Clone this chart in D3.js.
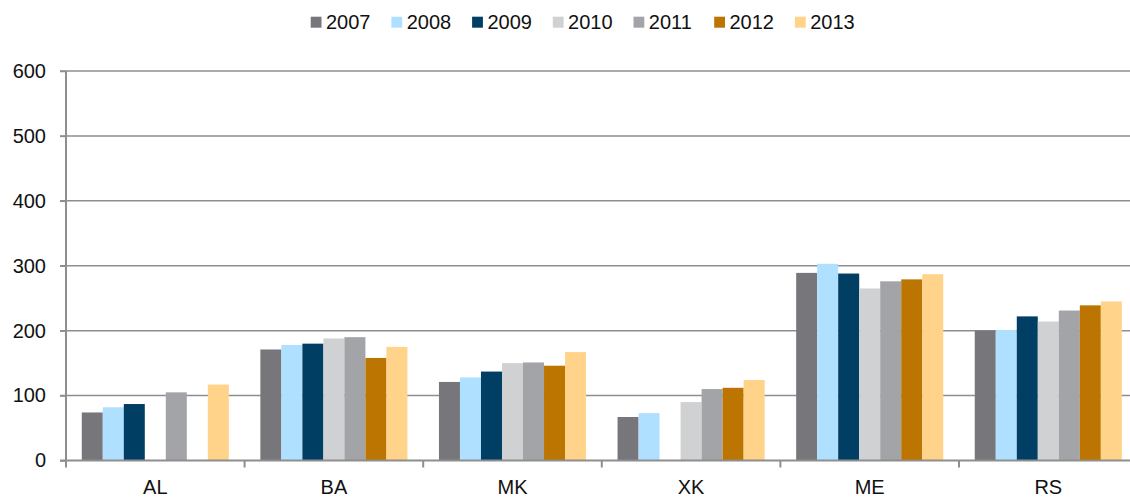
<!DOCTYPE html>
<html>
<head>
<meta charset="utf-8">
<script src="https://cdn.jsdelivr.net/npm/d3@7"></script>
<style>
  body { margin: 0; background: #fff; }
  text { font-family: "Liberation Sans", Arial, sans-serif; fill: #111; }
</style>
</head>
<body>
<script>
// countries and years
var countries = ["AL", "BA", "MK", "XK", "ME", "RS"];
var years = ["2007", "2008", "2009", "2010", "2011", "2012", "2013"];
var colors = ["#77767b", "#b0e0ff", "#003f63", "#d0d1d3", "#a3a4a8", "#bb7500", "#ffd389"];

// values per year, one per country (null = no data)
var v2007 = [74, 171, 121, 67, 289, 200];
var v2008 = [82, 178, 128, 73, 303, 201];
var v2009 = [87, 180, 137, null, 288, 222];
var v2010 = [null, 188, 150, 90, 265, 214];
var v2011 = [105, 190, 151, 110, 276, 231];
var v2012 = [null, 158, 146, 112, 279, 239];
var v2013 = [117, 175, 167, 124, 287, 245];
var series = [v2007, v2008, v2009, v2010, v2011, v2012, v2013];
var yTicks = [0, 100, 200, 300, 400, 500, 600];

var W = 1130, H = 498;
var margin = {top: 71, left: 66, bottom: 37},
    plotW = 178.6 * 6,
    plotH = H - margin.top - margin.bottom - 0.5;

var svg = d3.select("body").append("svg")
    .attr("width", W)
    .attr("height", H);

var g = svg.append("g")
    .attr("transform", "translate(" + margin.left + "," + margin.top + ")");

var x0 = d3.scaleBand().domain(countries).range([0, plotW])
    .paddingInner(0).paddingOuter(0);
var step = x0.bandwidth();
var barW = step / 8.5;
var x1 = d3.scaleBand().domain(years)
    .range([barW * 0.75, barW * 7.75]);

var y = d3.scaleLinear().domain([0, 600]).range([plotH, 0]);

// gridlines
g.append("g").selectAll("line")
    .data(yTicks.slice(1))
    .enter().append("line")
    .attr("x1", -6).attr("x2", W)
    .attr("y1", function(d) { return y(d); })
    .attr("y2", function(d) { return y(d); })
    .style("stroke", "#8e8e8e")
    .style("stroke-width", 1.5);

// bars
var rows = [];
series.forEach(function(s, i) {
    s.forEach(function(v, j) {
        if (v !== null) rows.push({year: years[i], c: countries[j], v: v, col: colors[i]});
    });
});

g.append("g").selectAll("rect")
    .data(rows)
    .enter().append("rect")
    .attr("x", function(d) { return x0(d.c) + x1(d.year); })
    .attr("width", x1.bandwidth())
    .attr("y", function(d) { return y(d.v); })
    .attr("height", function(d) { return plotH - y(d.v); })
    .style("fill", function(d) { return d.col; });

// y axis
var yAxis = g.append("g")
    .call(d3.axisLeft(y).tickValues(yTicks).tickSize(6).tickPadding(14));
yAxis.select(".domain").remove();
yAxis.selectAll("line").style("stroke", "#8e8e8e").style("stroke-width", 1.5);
yAxis.selectAll("text").style("font-size", "20px")
    .style("font-family", "'Liberation Sans', Arial, sans-serif").attr("fill", "#111");
g.append("line")
    .attr("x1", 0).attr("x2", 0).attr("y1", 0).attr("y2", plotH)
    .style("stroke", "#8e8e8e").style("stroke-width", 2);

// x axis
g.append("line")
    .attr("x1", -6).attr("x2", W).attr("y1", plotH).attr("y2", plotH)
    .style("stroke", "#8e8e8e").style("stroke-width", 2);
g.append("g").selectAll("line")
    .data(d3.range(countries.length + 1))
    .enter().append("line")
    .attr("x1", function(i) { return i * step; })
    .attr("x2", function(i) { return i * step; })
    .attr("y1", plotH).attr("y2", plotH + 7)
    .style("stroke", "#8e8e8e").style("stroke-width", 2);
g.append("g").selectAll("text")
    .data(countries)
    .enter().append("text")
    .attr("x", function(d) { return x0(d) + step / 2; })
    .attr("y", plotH + 33)
    .attr("text-anchor", "middle")
    .style("font-size", "20px")
    .text(function(d) { return d; });

// legend
var legend = svg.append("g").attr("transform", "translate(310.7,0)");
var item = legend.selectAll("g")
    .data(years)
    .enter().append("g")
    .attr("transform", function(d, i) { return "translate(" + (i * 80.7) + ",0)"; });
item.append("rect")
    .attr("y", 16.7).attr("width", 10.8).attr("height", 11)
    .style("fill", function(d, i) { return colors[i]; });
item.append("text")
    .attr("x", 15.3).attr("y", 29)
    .style("font-size", "20px")
    .text(function(d) { return d; });
</script>
</body>
</html>
